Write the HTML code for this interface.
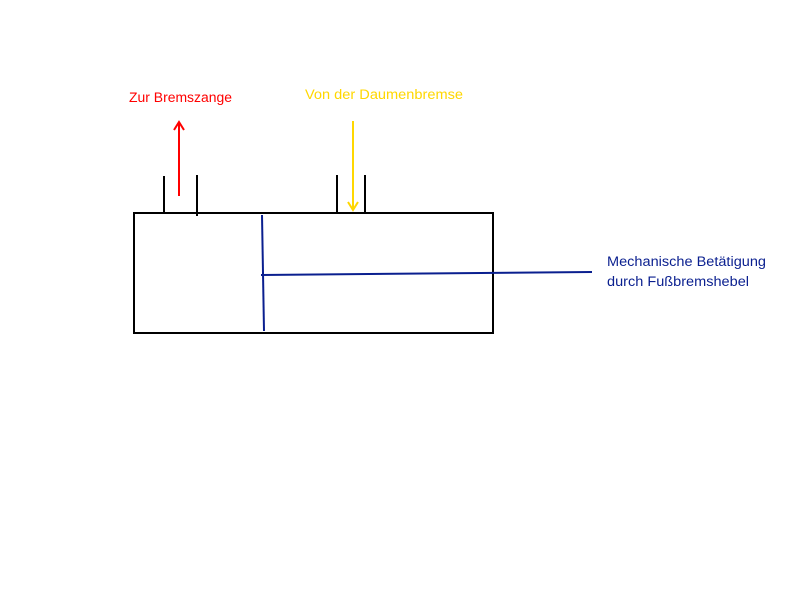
<!DOCTYPE html>
<html><head><meta charset="utf-8"><style>
html,body{margin:0;padding:0;background:#fff;width:800px;height:600px;overflow:hidden}
svg text{font-family:"Liberation Sans",sans-serif;font-size:13.5px}
</style></head><body>
<svg width="800" height="600" xmlns="http://www.w3.org/2000/svg">
<rect x="134" y="213" width="359" height="120" fill="none" stroke="#000" stroke-width="2"/>
<line x1="164" y1="176" x2="164" y2="214" stroke="#000" stroke-width="2"/>
<line x1="197" y1="175" x2="197" y2="216" stroke="#000" stroke-width="2"/>
<line x1="337" y1="175" x2="337" y2="214" stroke="#000" stroke-width="2"/>
<line x1="365" y1="175" x2="365" y2="214" stroke="#000" stroke-width="2"/>
<line x1="179" y1="196" x2="179" y2="123" stroke="#f00" stroke-width="2"/>
<polyline points="174,130 179,122 184,130" fill="none" stroke="#f00" stroke-width="2"/>
<line x1="353" y1="121" x2="353" y2="210" stroke="#ffd700" stroke-width="2"/>
<polyline points="348,202 353,210 358,202" fill="none" stroke="#ffd700" stroke-width="2"/>
<line x1="262" y1="215" x2="264" y2="331" stroke="#0a1f8f" stroke-width="2"/>
<line x1="261" y1="275" x2="592" y2="272" stroke="#0a1f8f" stroke-width="2"/>
<text x="129" y="102" fill="#f00" textLength="103" lengthAdjust="spacingAndGlyphs">Zur Bremszange</text>
<text x="305" y="99" fill="#ffd700" textLength="158" lengthAdjust="spacingAndGlyphs">Von der Daumenbremse</text>
<text x="607" y="266" fill="#0a1f8f" textLength="159" lengthAdjust="spacingAndGlyphs">Mechanische Betätigung</text>
<text x="607" y="286" fill="#0a1f8f" textLength="142" lengthAdjust="spacingAndGlyphs">durch Fußbremshebel</text>
</svg>
</body></html>
